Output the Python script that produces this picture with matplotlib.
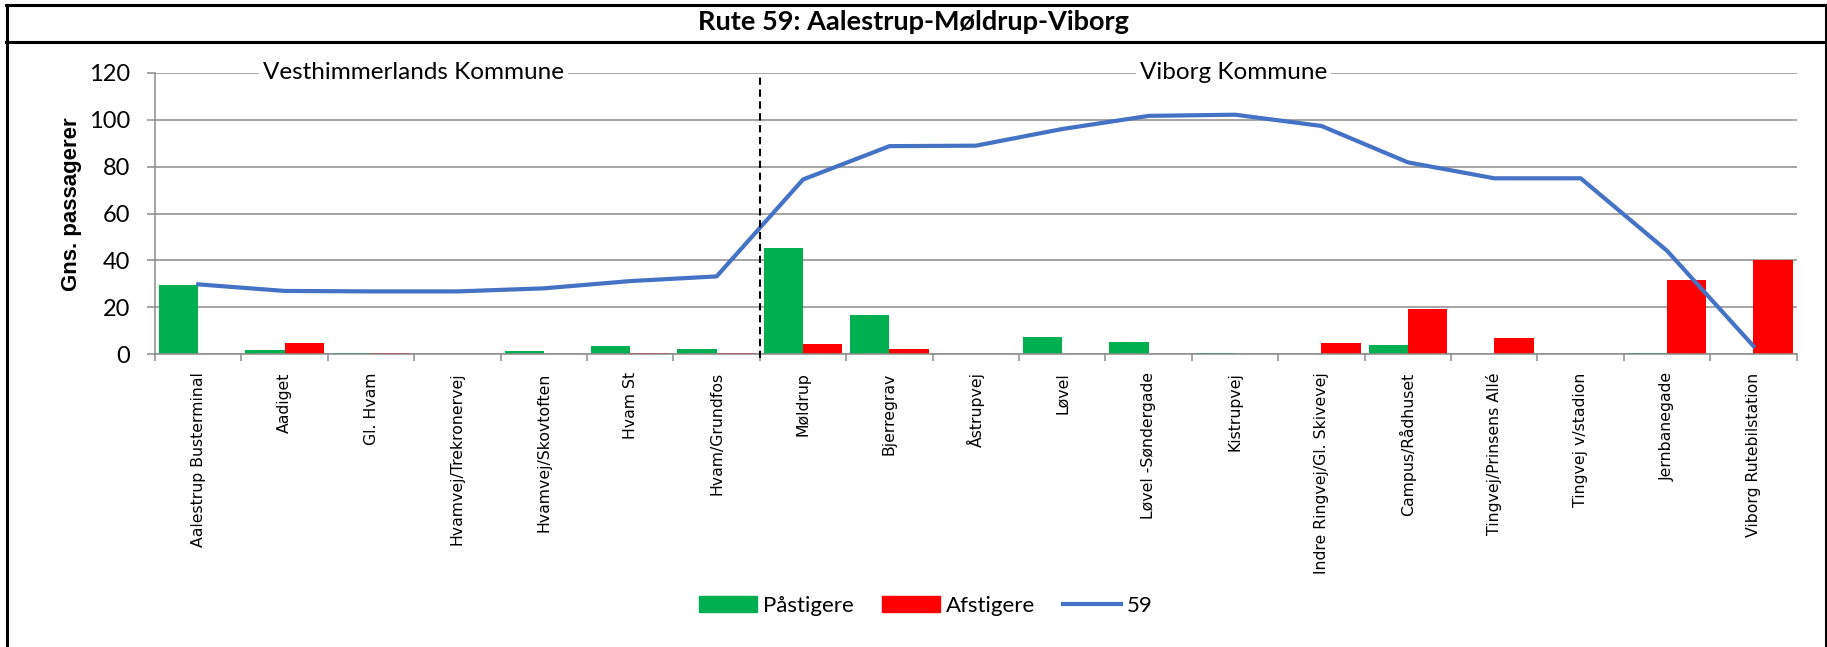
import matplotlib
matplotlib.use("Agg")
import matplotlib.pyplot as plt
from matplotlib.lines import Line2D
from matplotlib.patches import Patch
import numpy as np

stops = ["Aalestrup Busterminal", "Aadiget", "Gl. Hvam", "Hvamvej/Trekronervej",
         "Hvamvej/Skovtoften", "Hvam St", "Hvam/Grundfos", "Møldrup", "Bjerregrav",
         "Åstrupvej", "Løvel", "Løvel -Søndergade", "Kistrupvej",
         "Indre Ringvej/Gl. Skivevej", "Campus/Rådhuset", "Tingvej/Prinsens Allé",
         "Tingvej v/stadion", "Jernbanegade", "Viborg Rutebilstation"]
paastigere = [29.6, 1.8, 0.4, 0.0, 1.4, 3.5, 2.4, 45.4, 16.6, 0.3, 7.2, 5.2, 0.5,
              0.2, 4.0, 0.1, 0.0, 0.5, 0.0]
afstigere = [0.0, 4.7, 0.4, 0.0, 0.15, 0.4, 0.4, 4.4, 2.3, 0.0, 0.2, 0.0, 0.0,
             4.7, 19.3, 7.1, 0.0, 31.8, 40.0]
load_59 = [29.8, 27.0, 26.8, 26.8, 28.1, 31.2, 33.2, 74.5, 88.7, 88.9, 96.0, 101.6,
           102.1, 97.3, 81.8, 75.0, 75.0, 44.1, 3.5]
yticks = [0, 20, 40, 60, 80, 100, 120]
title = "Rute 59: Aalestrup-Møldrup-Viborg"
region_labels = ["Vesthimmerlands Kommune", "Viborg Kommune"]

W, H = 1827, 647
fig = plt.figure(figsize=(W / 100, H / 100), dpi=100)
ax = fig.add_axes([155 / W, 1 - 354.3 / H, (1796.7 - 155) / W, (354.3 - 72.7) / H])

x = np.arange(len(stops))
bw = 0.455
green = "#00B050"
red = "#FF0000"
blue = "#4472C4"
grid_c = "#8C8C8C"

ax.set_axisbelow(True)
ax.yaxis.grid(True, color=grid_c, lw=1.1)
ax.bar(x - bw / 2, paastigere, width=bw, color=green, zorder=2)
ax.bar(x + bw / 2, afstigere, width=bw, color=red, zorder=2)
ax.plot(x, load_59, color=blue, lw=3.0, zorder=3, solid_joinstyle="round")

ax.set_xlim(-0.5, len(stops) - 0.5)
ax.set_ylim(0, 120)
ax.set_yticks(yticks)
ax.set_yticklabels([str(v) for v in yticks], fontsize=17, family="Lato")
ax.set_xticks(x)
ax.set_xticklabels(stops, rotation=90, fontsize=11.3, family="DejaVu Sans")
ax.set_xticks(np.arange(-0.5, len(stops)), minor=True)
ax.tick_params(axis="x", which="major", length=0, pad=13)
ax.tick_params(axis="x", which="minor", length=5, color=grid_c, width=1.1)
ax.tick_params(axis="y", length=6, color=grid_c, width=1.1, pad=12)

for s in ["top", "right"]:
    ax.spines[s].set_visible(False)
for s in ["left", "bottom"]:
    ax.spines[s].set_color(grid_c)
    ax.spines[s].set_linewidth(1.1)

# municipality divider
ax.plot([6.5, 6.5], [-1.5, 118], color="black", lw=1.5, ls=(0, (3.5, 2.2)),
        clip_on=False, zorder=4)

# region labels on the top gridline
ax.text(2.49, 120, region_labels[0], ha="center", va="center", fontsize=17.5,
        family="Lato", bbox=dict(facecolor="white", edgecolor="none", pad=3), zorder=5)
ax.text(11.98, 120, region_labels[1], ha="center", va="center", fontsize=17.5,
        family="Lato", bbox=dict(facecolor="white", edgecolor="none", pad=3), zorder=5)

fig.text(72 / W, 1 - 204 / H, "Gns. passagerer", rotation=90, ha="center",
         va="center", fontsize=16, fontweight="bold", family="Liberation Sans")

fig.text(913 / W, 1 - 22 / H, title, ha="center", va="center", fontsize=19.5,
         fontweight="bold", family="Lato")

# frame lines
lw_frame = 2.2
fig.add_artist(Line2D([6.7 / W, 6.7 / W], [0, 1 - 5 / H], color="black", lw=lw_frame,
                      transform=fig.transFigure))
fig.add_artist(Line2D([6 / W, 1], [1 - 5 / H, 1 - 5 / H], color="black", lw=lw_frame,
                      transform=fig.transFigure))
fig.add_artist(Line2D([6 / W, 1], [1 - 42 / H, 1 - 42 / H], color="black", lw=lw_frame,
                      transform=fig.transFigure))
fig.add_artist(Line2D([1825.5 / W, 1825.5 / W], [0, 1 - 5 / H], color="black",
                      lw=lw_frame, transform=fig.transFigure))

handles = [Patch(color=green), Patch(color=red), Line2D([0], [0], color=blue, lw=3)]
leg = fig.legend(handles, ["Påstigere", "Afstigere", "59"], loc="center",
                 bbox_to_anchor=(926 / W, 1 - 606 / H), ncol=3, frameon=False,
                 prop={"family": "Lato", "size": 16}, handlelength=2.6,
                 handleheight=0.7, handletextpad=0.27, columnspacing=1.26)

fig.savefig("out.png", dpi=100)
